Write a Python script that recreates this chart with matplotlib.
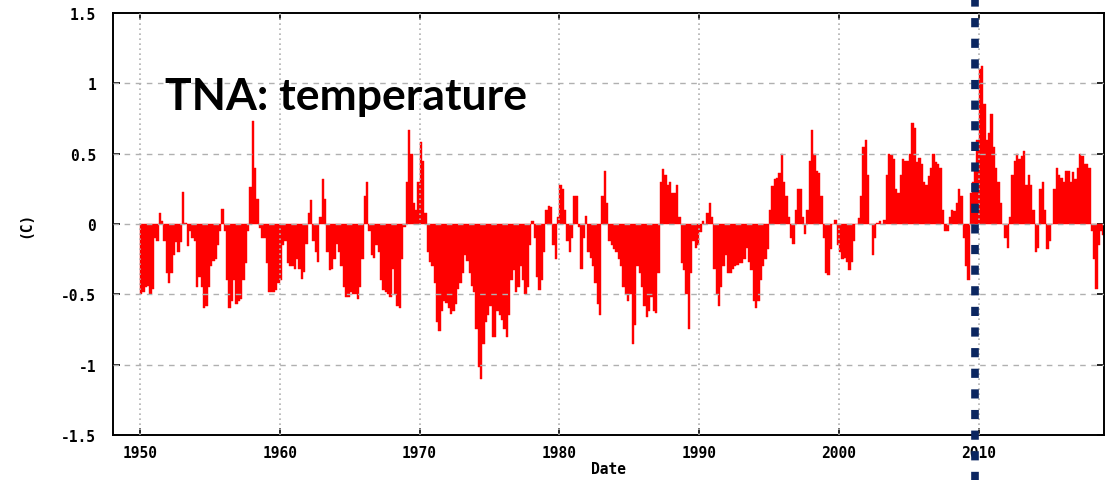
import matplotlib
matplotlib.use("Agg")
import matplotlib.pyplot as plt
import numpy as np

# TNA temperature anomaly (C), bimonthly values, one row per year
tna_1950s = [
    -0.50, -0.48, -0.45, -0.44, -0.50, -0.46,   # 1950
    -0.10, -0.12, 0.08, 0.02, -0.12, -0.35,     # 1951
    -0.42, -0.35, -0.22, -0.13, -0.20, -0.13,   # 1952
    0.23, 0.01, -0.16, -0.05, -0.10, -0.12,     # 1953
    -0.45, -0.38, -0.45, -0.60, -0.58, -0.45,   # 1954
    -0.30, -0.26, -0.25, -0.15, -0.05, 0.11,    # 1955
    -0.05, -0.40, -0.60, -0.55, -0.40, -0.57,   # 1956
    -0.55, -0.53, -0.40, -0.28, -0.05, 0.26,    # 1957
    0.73, 0.40, 0.18, -0.03, -0.10, -0.10,      # 1958
    -0.28, -0.48, -0.48, -0.48, -0.47, -0.42,   # 1959
]
tna_1960s = [
    -0.40, -0.15, -0.12, -0.28, -0.30, -0.30,   # 1960
    -0.32, -0.25, -0.32, -0.39, -0.34, -0.14,   # 1961
    0.08, 0.17, -0.12, -0.20, -0.27, 0.05,      # 1962
    0.32, 0.18, -0.20, -0.33, -0.32, -0.25,     # 1963
    -0.14, -0.20, -0.30, -0.45, -0.52, -0.52,   # 1964
    -0.48, -0.50, -0.50, -0.53, -0.45, -0.25,   # 1965
    0.20, 0.30, -0.05, -0.22, -0.24, -0.15,     # 1966
    -0.20, -0.40, -0.47, -0.48, -0.50, -0.52,   # 1967
    -0.32, -0.50, -0.58, -0.60, -0.25, -0.02,   # 1968
    0.30, 0.67, 0.50, 0.15, 0.10, 0.30,         # 1969
]
tna_1970s = [
    0.58, 0.45, 0.08, -0.20, -0.27, -0.30,      # 1970
    -0.42, -0.70, -0.76, -0.62, -0.55, -0.56,   # 1971
    -0.60, -0.64, -0.62, -0.57, -0.46, -0.42,   # 1972
    -0.35, -0.22, -0.26, -0.35, -0.44, -0.48,   # 1973
    -0.75, -1.02, -1.10, -0.85, -0.70, -0.65,   # 1974
    -0.58, -0.80, -0.80, -0.62, -0.65, -0.68,   # 1975
    -0.75, -0.80, -0.65, -0.40, -0.33, -0.48,   # 1976
    -0.45, -0.30, -0.40, -0.50, -0.45, -0.15,   # 1977
    0.02, -0.10, -0.38, -0.47, -0.40, -0.20,    # 1978
    0.10, 0.13, 0.12, -0.15, -0.25, 0.05,       # 1979
]
tna_1980s = [
    0.28, 0.25, 0.10, -0.12, -0.20, -0.10,      # 1980
    0.20, 0.20, -0.02, -0.32, -0.10, 0.06,      # 1981
    -0.20, -0.24, -0.30, -0.42, -0.57, -0.65,   # 1982
    0.20, 0.38, 0.15, -0.12, -0.15, -0.18,      # 1983
    -0.20, -0.25, -0.30, -0.45, -0.50, -0.55,   # 1984
    -0.50, -0.85, -0.72, -0.30, -0.35, -0.45,   # 1985
    -0.58, -0.66, -0.62, -0.52, -0.62, -0.63,   # 1986
    -0.35, 0.30, 0.39, 0.35, 0.28, 0.30,        # 1987
    0.22, 0.22, 0.28, 0.05, -0.28, -0.33,       # 1988
    -0.50, -0.75, -0.35, -0.12, -0.17, -0.15,   # 1989
]
tna_1990s = [
    -0.06, 0.02, 0.00, 0.08, 0.15, 0.05,        # 1990
    -0.32, -0.50, -0.58, -0.45, -0.30, -0.22,   # 1991
    -0.35, -0.35, -0.32, -0.30, -0.29, -0.28,   # 1992
    -0.28, -0.25, -0.17, -0.27, -0.33, -0.55,   # 1993
    -0.60, -0.55, -0.40, -0.30, -0.25, -0.18,   # 1994
    0.10, 0.27, 0.32, 0.33, 0.36, 0.50,         # 1995
    0.30, 0.20, 0.05, -0.10, -0.14, 0.10,       # 1996
    0.25, 0.25, 0.05, -0.07, 0.10, 0.45,        # 1997
    0.67, 0.50, 0.38, 0.36, 0.20, -0.10,        # 1998
    -0.35, -0.36, -0.18, 0.00, 0.03, -0.15,     # 1999
]
tna_2000s = [
    -0.20, -0.25, -0.24, -0.27, -0.33, -0.27,   # 2000
    -0.12, 0.00, 0.04, 0.20, 0.55, 0.60,        # 2001
    0.35, 0.00, -0.22, -0.10, 0.01, 0.02,       # 2002
    0.00, 0.03, 0.35, 0.50, 0.49, 0.46,         # 2003
    0.25, 0.22, 0.35, 0.46, 0.45, 0.45,         # 2004
    0.50, 0.72, 0.68, 0.44, 0.47, 0.43,         # 2005
    0.30, 0.28, 0.34, 0.40, 0.50, 0.44,         # 2006
    0.43, 0.40, 0.10, -0.05, -0.05, 0.05,       # 2007
    0.10, 0.09, 0.15, 0.25, 0.20, -0.10,        # 2008
    -0.30, -0.40, 0.22, 0.30, 0.40, 0.60,       # 2009
]
tna_2010s = [
    1.10, 1.12, 0.85, 0.60, 0.65, 0.78,         # 2010
    0.55, 0.40, 0.30, 0.15, 0.00, -0.10,        # 2011
    -0.17, 0.05, 0.35, 0.45, 0.50, 0.46,        # 2012
    0.48, 0.52, 0.28, 0.35, 0.28, 0.10,         # 2013
    -0.20, -0.17, 0.25, 0.30, 0.10, -0.18,      # 2014
    -0.12, 0.00, 0.25, 0.40, 0.35, 0.33,        # 2015
    0.30, 0.38, 0.38, 0.30, 0.37, 0.32,         # 2016
    0.40, 0.50, 0.48, 0.43, 0.43, 0.40,         # 2017
    -0.05, -0.25, -0.46, -0.15, -0.05, -0.08,   # 2018
]

start_year = 1950
per_year = 6
marker_year = 2009.73

xticks = [1950, 1960, 1970, 1980, 1990, 2000, 2010]
yticks = [1.5, 1, 0.5, 0, -0.5, -1, -1.5]
ytick_labels = ["1.5", "1", "0.5", "0", "-0.5", "-1", "-1.5"]

values = np.array(tna_1950s + tna_1960s + tna_1970s + tna_1980s
                  + tna_1990s + tna_2000s + tna_2010s)
dates = start_year + np.arange(len(values)) / per_year

mono = {"family": "DejaVu Sans Mono", "weight": "bold", "size": 10.5}

fig = plt.figure(figsize=(11.15, 4.81), dpi=100)
ax = fig.add_axes([0.1013, 0.0936, 0.8888, 0.8773])

ax.bar(dates, values, width=1 / per_year, align="edge", color="#ff0000",
       edgecolor="#ff0000", linewidth=0.3, zorder=2)

ax.set_xlim(1948.07, 2018.95)
ax.set_ylim(-1.5, 1.5)
ax.set_xticks(xticks)
ax.set_xticklabels([str(t) for t in xticks], fontdict=mono)
ax.set_yticks(yticks)
ax.set_yticklabels(ytick_labels, fontdict=mono)

ax.tick_params(direction="in", length=5, width=1.2, top=True, right=True,
               color="black")
ax.tick_params(axis="x", pad=7)
ax.tick_params(axis="y", pad=12)

for y in yticks[1:-1]:
    ax.axhline(y, color="#b0b0b0", linewidth=1.0, linestyle=(0, (4, 4)), zorder=3)
for x in xticks:
    ax.axvline(x, color="#b0b0b0", linewidth=1.2, linestyle=(0, (1, 2)), zorder=3)

for s in ax.spines.values():
    s.set_linewidth(1.4)
    s.set_color("black")

ax.set_xlabel("Date", fontdict=mono, labelpad=1)
ax.set_ylabel("(C)", fontdict=mono, labelpad=20)

ax.text(0.0525, 0.7725, "TNA: temperature", transform=ax.transAxes,
        family="Lato", weight="bold", fontsize=32, color="black",
        va="baseline", ha="left")

# highlight line through the whole figure
ax.plot([marker_year, marker_year], [-1.85, 1.62], color="#0b2660",
        linewidth=5.5, linestyle=(0, (1.2, 1.5)), solid_capstyle="butt",
        dash_capstyle="butt", clip_on=False, zorder=5)

fig.savefig("out.png", dpi=100)
